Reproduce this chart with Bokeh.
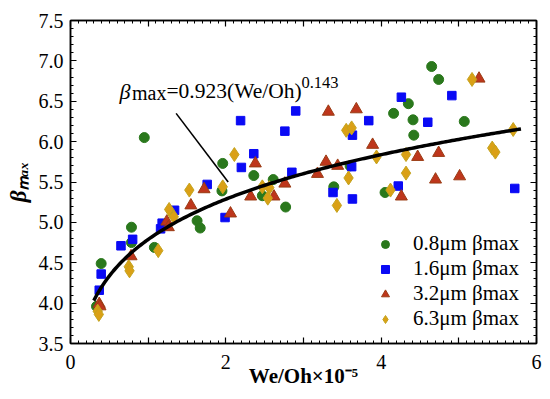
import numpy as np
from bokeh.plotting import figure
from bokeh.models import (Range1d, FixedTicker, LinearAxis, Label, Legend,
                          PrintfTickFormatter)
from bokeh.embed import file_html
from bokeh.resources import INLINE

# ---------------- data ----------------
g_x = [0.335, 0.395, 0.785, 0.785, 0.95, 1.08, 1.63, 1.67, 1.95, 1.96, 2.36, 2.47,
       2.61, 2.77, 3.39, 3.60, 4.05, 4.16, 4.35, 4.41, 4.42, 4.65, 4.74, 5.07]
g_y = [3.96, 4.49, 4.94, 4.75, 6.05, 4.69, 5.02, 4.93, 5.39, 5.73, 5.58, 5.33,
       5.53, 5.19, 5.44, 5.70, 5.37, 6.35, 6.47, 6.27, 6.08, 6.93, 6.77, 6.25]

b_x = [0.37, 0.395, 0.65, 0.80, 1.16, 1.18, 1.34, 1.76, 1.99, 2.19, 2.20, 2.36, 2.76,
       2.85, 2.90, 3.38, 3.62, 3.63, 3.63, 3.84, 4.22, 4.26, 4.60, 4.91, 5.72]
b_y = [4.16, 4.36, 4.71, 4.79, 4.92, 4.99, 5.15, 5.47, 5.06, 6.26, 5.68, 5.85, 6.13,
       5.62, 6.38, 5.37, 5.69, 5.29, 6.08, 6.26, 5.45, 6.55, 6.24, 6.57, 5.42]

t_x = [0.37, 0.38, 0.78, 1.24, 1.26, 1.55, 1.72, 2.06, 2.32, 2.38, 2.62, 2.76,
       3.18, 3.29, 3.32, 3.44, 3.68, 3.89, 4.26, 4.47, 4.70, 4.74, 5.01, 5.26]
t_y = [3.99, 3.96, 4.58, 5.01, 4.94, 5.21, 5.41, 5.11, 5.32, 5.73, 5.32, 5.48,
       5.60, 5.75, 6.37, 5.70, 6.40, 5.96, 5.32, 5.81, 5.53, 5.86, 5.57, 6.78]

d_x = [0.35, 0.365, 0.75, 0.76, 1.13, 1.27, 1.33, 1.53, 1.96, 2.11, 2.47, 2.56, 2.54,
       3.43, 3.55, 3.62, 3.58, 3.94, 4.12, 4.32, 4.32, 5.17, 5.43, 5.47, 5.70]
d_y = [3.90, 3.86, 4.45, 4.40, 4.65, 5.16, 5.07, 5.40, 5.44, 5.84, 5.44, 5.43, 5.30,
       5.21, 6.14, 6.17, 5.55, 5.81, 5.40, 5.84, 5.61, 6.77, 5.92, 5.87, 6.15]

series_labels = ["0.8\u03bcm \u03b2max", "1.6\u03bcm \u03b2max",
                 "3.2\u03bcm \u03b2max", "6.3\u03bcm \u03b2max"]

# fit shown on the chart: beta_max = 0.923 (We/Oh)^0.143, We/Oh in units of 1e5
fit_a = 0.923
fit_b = 0.143
fit_x_start = 0.3
fit_x_end = 5.8

x_ticks = [0, 1, 2, 3, 4, 5, 6]
y_ticks = [3.5, 4.0, 4.5, 5.0, 5.5, 6.0, 6.5, 7.0, 7.5]

x_title = "We/Oh\u00d710\u207b\u2075"
y_title = "\u03b2\u2098\u2090\u2093"

# ---------------- figure ----------------
SERIF = "Liberation Serif"

p = figure(width=550, height=399, output_backend="svg", toolbar_location=None,
           x_range=Range1d(0, 6), y_range=Range1d(3.5, 7.5),
           min_border_left=70, min_border_right=14, min_border_top=20,
           min_border_bottom=56)
p.background_fill_color = "white"
p.border_fill_color = "white"
p.grid.visible = False
p.outline_line_color = "black"
p.outline_line_width = 1.5

x_minor = [round(i * 0.1, 1) for i in range(0, 61) if i % 10 != 0]
y_minor = [round(3.5 + i * 0.1, 1) for i in range(0, 41) if i % 5 != 0]


def style_axis(ax):
    ax.axis_line_color = "black"
    ax.axis_line_width = 1.5
    ax.major_tick_line_color = "black"
    ax.minor_tick_line_color = "black"
    ax.major_tick_line_width = 1.2
    ax.minor_tick_line_width = 1.0
    ax.major_tick_in = 6
    ax.major_tick_out = 0
    ax.minor_tick_in = 3
    ax.minor_tick_out = 0
    ax.major_label_text_font = SERIF
    ax.major_label_text_color = "black"
    ax.major_label_text_font_size = "20px"


p.xaxis.ticker = FixedTicker(ticks=x_ticks, minor_ticks=x_minor)
p.yaxis.ticker = FixedTicker(ticks=y_ticks, minor_ticks=y_minor)
p.xaxis.major_label_overrides = {1: "", 3: "", 5: ""}
p.yaxis.formatter = PrintfTickFormatter(format="%.1f")
for ax in p.xaxis:
    style_axis(ax)
    ax.major_label_standoff = 11
    ax.axis_label = x_title
    ax.axis_label_text_font = SERIF
    ax.axis_label_text_font_size = "21px"
    ax.axis_label_text_font_style = "bold"
    ax.axis_label_text_color = "black"
    ax.axis_label_standoff = -8
for ax in p.yaxis:
    style_axis(ax)
    ax.major_label_standoff = 7
    ax.axis_label = y_title
    ax.axis_label_text_font = SERIF
    ax.axis_label_text_font_size = "23px"
    ax.axis_label_text_font_style = "bold italic"
    ax.axis_label_text_color = "black"
    ax.axis_label_standoff = 5

top_ax = LinearAxis(ticker=FixedTicker(ticks=x_ticks, minor_ticks=x_minor),
                    major_label_overrides={t: "" for t in x_ticks})
right_ax = LinearAxis(ticker=FixedTicker(ticks=y_ticks, minor_ticks=y_minor),
                      major_label_overrides={t: "" for t in y_ticks})
for ax in (top_ax, right_ax):
    style_axis(ax)
    ax.major_label_standoff = 0
p.add_layout(top_ax, "above")
p.add_layout(right_ax, "right")

# ---------------- markers ----------------
r1 = p.scatter(g_x, g_y, marker="circle", size=10, fill_color="#2A781C",
               line_color="#2A781C")
r2 = p.scatter(b_x, b_y, marker="square", size=8.5, fill_color="#0A0AF5",
               line_color="#0A0AF5")
r3 = p.scatter(t_x, t_y, marker="triangle", size=12, fill_color="#BE361C",
               line_color="#9A3C14")
r4 = p.scatter(d_x, d_y, marker="diamond", size=14,
               fill_color="#DAA016", line_color="#C4A41E")

# fit curve
fx = np.linspace(fit_x_start, fit_x_end, 200)
fy = fit_a * (fx * 1e5) ** fit_b
p.line(fx, fy, line_color="black", line_width=3.5)

# pointer line of the annotation
p.line([1.36, 2.03], [6.35, 5.50], line_color="black", line_width=1.6)

# ---------------- legend ----------------
legend = Legend(items=[(series_labels[0], [r1]), (series_labels[1], [r2]),
                       (series_labels[2], [r3]), (series_labels[3], [r4])],
                location=(305, 12))
legend.label_text_font = SERIF
legend.label_text_font_size = "21px"
legend.label_text_color = "black"
legend.border_line_color = None
legend.background_fill_alpha = 0
legend.padding = 0
legend.spacing = -3
legend.glyph_width = 20
legend.glyph_height = 20
legend.label_height = 20
legend.label_standoff = 18
legend.margin = 0
p.add_layout(legend, "center")


# ---------------- equation annotation ----------------
def lab(x, y, t, size, style="normal"):
    p.add_layout(Label(x=x, y=y, text=t, text_font=SERIF, text_font_size=size,
                       text_font_style=style, text_color="black",
                       text_align="left", text_baseline="alphabetic"))


lab(0.631, 6.625, "\u03b2", "22px", "italic")
lab(0.792, 6.603, "max", "20px")
lab(1.236, 6.625, "=0.923(We/Oh)", "21.5px")
lab(2.974, 6.735, "0.143", "16.5px")

open("out.html", "w").write(file_html(p, INLINE))
